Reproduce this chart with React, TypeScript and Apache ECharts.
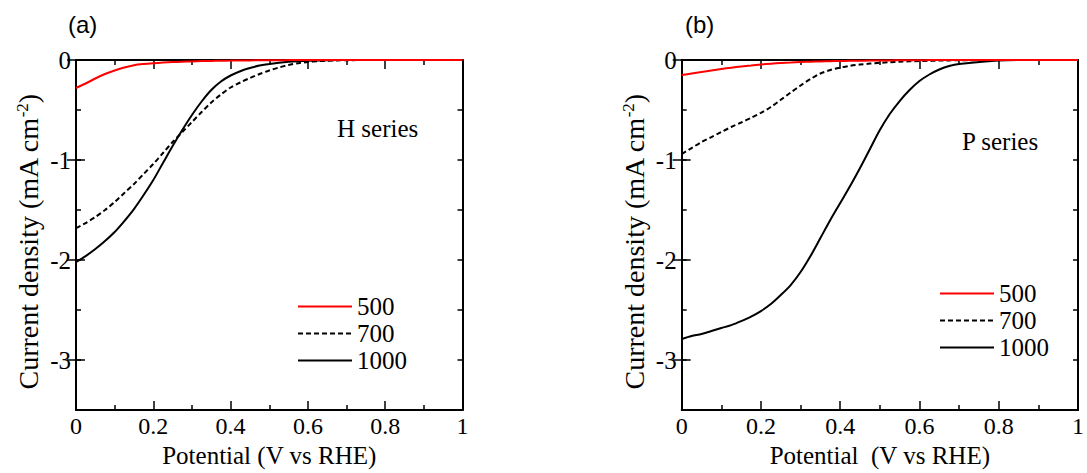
import React, { useEffect, useRef } from "react";
import * as echarts from "echarts";

// Potential (V vs RHE)
const potential = [
  0, 0.025, 0.05, 0.075, 0.1, 0.125, 0.15, 0.175, 0.2, 0.225, 0.25, 0.275, 0.3,
  0.325, 0.35, 0.375, 0.4, 0.425, 0.45, 0.475, 0.5, 0.525, 0.55, 0.575, 0.6,
  0.625, 0.65, 0.675, 0.7, 0.8, 0.9, 1.0,
];

// (a) H series, current density (mA cm-2)
const h500 = [
  -0.28, -0.235, -0.185, -0.14, -0.105, -0.075, -0.052, -0.04, -0.032, -0.026,
  -0.021, -0.017, -0.014, -0.011, -0.009, -0.007, -0.006, -0.005, -0.004, -0.003,
  -0.002, -0.002, -0.001, -0.001, -0.001, 0, 0, 0, 0, 0, 0, 0,
];
const h700 = [
  -1.68, -1.63, -1.57, -1.5, -1.42, -1.33, -1.24, -1.14, -1.04, -0.93, -0.82,
  -0.72, -0.62, -0.52, -0.425, -0.345, -0.275, -0.225, -0.18, -0.14, -0.105,
  -0.075, -0.05, -0.032, -0.02, -0.012, -0.007, -0.004, -0.002, 0, 0, 0,
];
const h1000 = [
  -2.02, -1.96, -1.89, -1.81, -1.72, -1.61, -1.49, -1.35, -1.2, -1.03, -0.86,
  -0.7, -0.55, -0.415, -0.3, -0.215, -0.155, -0.112, -0.08, -0.056, -0.039,
  -0.027, -0.018, -0.012, -0.008, -0.005, -0.003, -0.001, 0, 0, 0, 0,
];

// (b) P series
const p500 = [
  -0.15, -0.135, -0.12, -0.105, -0.09, -0.077, -0.065, -0.055, -0.045, -0.037,
  -0.03, -0.025, -0.02, -0.017, -0.014, -0.012, -0.01, -0.008, -0.007, -0.006,
  -0.005, -0.004, -0.003, -0.002, -0.002, -0.001, -0.001, 0, 0, 0, 0, 0,
];
const p700 = [
  -0.94, -0.88, -0.82, -0.77, -0.72, -0.67, -0.625, -0.578, -0.528, -0.47,
  -0.398, -0.325, -0.255, -0.19, -0.135, -0.1, -0.076, -0.058, -0.046, -0.036,
  -0.028, -0.022, -0.017, -0.013, -0.01, -0.008, -0.006, -0.004, -0.003, 0, 0, 0,
];
const p1000 = [
  -2.79, -2.76, -2.74, -2.71, -2.68, -2.65, -2.61, -2.565, -2.51, -2.44, -2.35,
  -2.25, -2.12, -1.96, -1.78, -1.6, -1.43, -1.26, -1.08, -0.89, -0.7, -0.54,
  -0.41, -0.3, -0.21, -0.145, -0.095, -0.06, -0.04, -0.005, 0, 0,
];

const legendNames = ["500", "700", "1000"];
const yMajorTicks = [-3, -2, -1, 0];
const panelLabels = ["(a)", "(b)"];
const seriesLabels = ["H series", "P series"];
const xNames = ["Potential (V vs RHE)", "Potential  (V vs RHE)"];

const SERIF = "Liberation Serif";
const SANS = "Liberation Sans";
const BLACK = "#000";

const pair = (ys: number[]) => potential.map((x, i) => [x, ys[i]]);

function buildXAxes(g: number, name: string) {
  const common = {
    type: "value",
    gridIndex: g,
    min: 0,
    max: 1,
    interval: 0.2,
    splitLine: { show: false },
    axisLine: { show: true, onZero: false, lineStyle: { color: BLACK, width: 2 } },
    axisTick: { show: true, inside: true, length: 9, lineStyle: { color: BLACK, width: 1.5 } },
    minorTick: { show: true, splitNumber: 2, length: 5, lineStyle: { color: BLACK, width: 1.5 } },
  };
  return [
    {
      ...common,
      position: "bottom",
      axisLabel: {
        color: BLACK,
        fontFamily: SERIF,
        fontSize: 24,
        margin: 4,
        formatter: (v: number) => String(parseFloat(v.toFixed(1))),
      },
      name,
      nameLocation: "middle",
      nameGap: 32,
      nameTextStyle: { color: BLACK, fontFamily: SERIF, fontSize: 25 },
    },
    { ...common, position: "top", axisLabel: { show: false } },
  ];
}

function buildYAxes(g: number) {
  const common = {
    type: "value",
    gridIndex: g,
    min: -3.5,
    max: 0,
    splitLine: { show: false },
  };
  const minor = {
    ...common,
    interval: 0.5,
    axisLine: { show: true, onZero: false, lineStyle: { color: BLACK, width: 2 } },
    axisTick: { show: true, inside: true, length: 5, lineStyle: { color: BLACK, width: 1.5 } },
  };
  const major = {
    ...common,
    axisLine: { show: false },
    axisTick: {
      show: true,
      inside: true,
      length: 9,
      customValues: yMajorTicks,
      lineStyle: { color: BLACK, width: 1.5 },
    },
    axisLabel: { show: false },
  };
  return [
    {
      ...minor,
      position: "left",
      axisLabel: {
        color: BLACK,
        fontFamily: SERIF,
        fontSize: 25,
        margin: 5,
        formatter: (v: number) => (Number.isInteger(v) ? String(v) : ""),
      },
      name: "Current density (mA cm{sup|-2})",
      nameLocation: "middle",
      nameRotate: 90,
      nameGap: 33,
      nameTextStyle: {
        color: BLACK,
        fontFamily: SERIF,
        fontSize: 28,
        padding: [0, 14, 0, 0],
        rich: {
          sup: { fontFamily: SERIF, fontSize: 17, verticalAlign: "top", color: BLACK, padding: [0, 0, 12, 0] },
        },
      },
    },
    { ...major, position: "left" },
    { ...minor, position: "right", axisLabel: { show: false } },
    { ...major, position: "right" },
  ];
}

function buildSeries(g: number, d500: number[], d700: number[], d1000: number[]) {
  const base = {
    type: "line",
    xAxisIndex: g * 2,
    yAxisIndex: g * 4,
    symbol: "none",
    showSymbol: false,
    smooth: 0.3,
    clip: false,
  };
  return [
    { ...base, name: "1000", data: pair(d1000), lineStyle: { color: BLACK, width: 2, type: "solid" }, itemStyle: { color: BLACK } },
    { ...base, name: "700", data: pair(d700), lineStyle: { color: BLACK, width: 2, type: [5, 3] }, itemStyle: { color: BLACK } },
    { ...base, name: "500", data: pair(d500), lineStyle: { color: "#ff0000", width: 2, type: "solid" }, itemStyle: { color: "#ff0000" } },
  ];
}

function buildLegend(left: number, top: number) {
  return {
    left,
    top,
    orient: "vertical",
    data: legendNames,
    itemWidth: 54,
    itemHeight: 14,
    itemGap: 2,
    padding: 0,
    selectedMode: false,
    itemStyle: { opacity: 0 },
    textStyle: { color: BLACK, fontFamily: SERIF, fontSize: 25, lineHeight: 24 },
  };
}

export default function App() {
  const ref = useRef<HTMLDivElement>(null);
  useEffect(() => {
    if (!ref.current) return;
    const chart = echarts.init(ref.current, undefined, { renderer: "svg" });
    const option = {
      animation: false,
      backgroundColor: "#ffffff",
      grid: [
        { left: 76, top: 60, width: 386.5, height: 353 },
        { left: 681.7, top: 60, width: 405, height: 353 },
      ],
      xAxis: [...buildXAxes(0, xNames[0]), ...buildXAxes(1, xNames[1])],
      yAxis: [...buildYAxes(0), ...buildYAxes(1)],
      legend: [buildLegend(297, 294), buildLegend(939, 281)],
      series: [...buildSeries(0, h500, h700, h1000), ...buildSeries(1, p500, p700, p1000)],
      graphic: [
        {
          type: "text",
          left: 68,
          top: 12,
          style: { text: panelLabels[0], fontFamily: SANS, fontSize: 24, fill: BLACK },
        },
        {
          type: "text",
          left: 685,
          top: 12,
          style: { text: panelLabels[1], fontFamily: SANS, fontSize: 24, fill: BLACK },
        },
        {
          type: "text",
          left: 337,
          top: 116,
          style: { text: seriesLabels[0], fontFamily: SERIF, fontSize: 25, fill: BLACK },
        },
        {
          type: "text",
          left: 962,
          top: 129,
          style: { text: seriesLabels[1], fontFamily: SERIF, fontSize: 25, fill: BLACK },
        },
      ],
    };
    chart.setOption(option as any);
    return () => chart.dispose();
  }, []);
  return (
    <div
      ref={ref}
      style={{ position: "fixed", left: 0, top: 0, width: 1087, height: 473, background: "#fff" }}
    />
  );
}
